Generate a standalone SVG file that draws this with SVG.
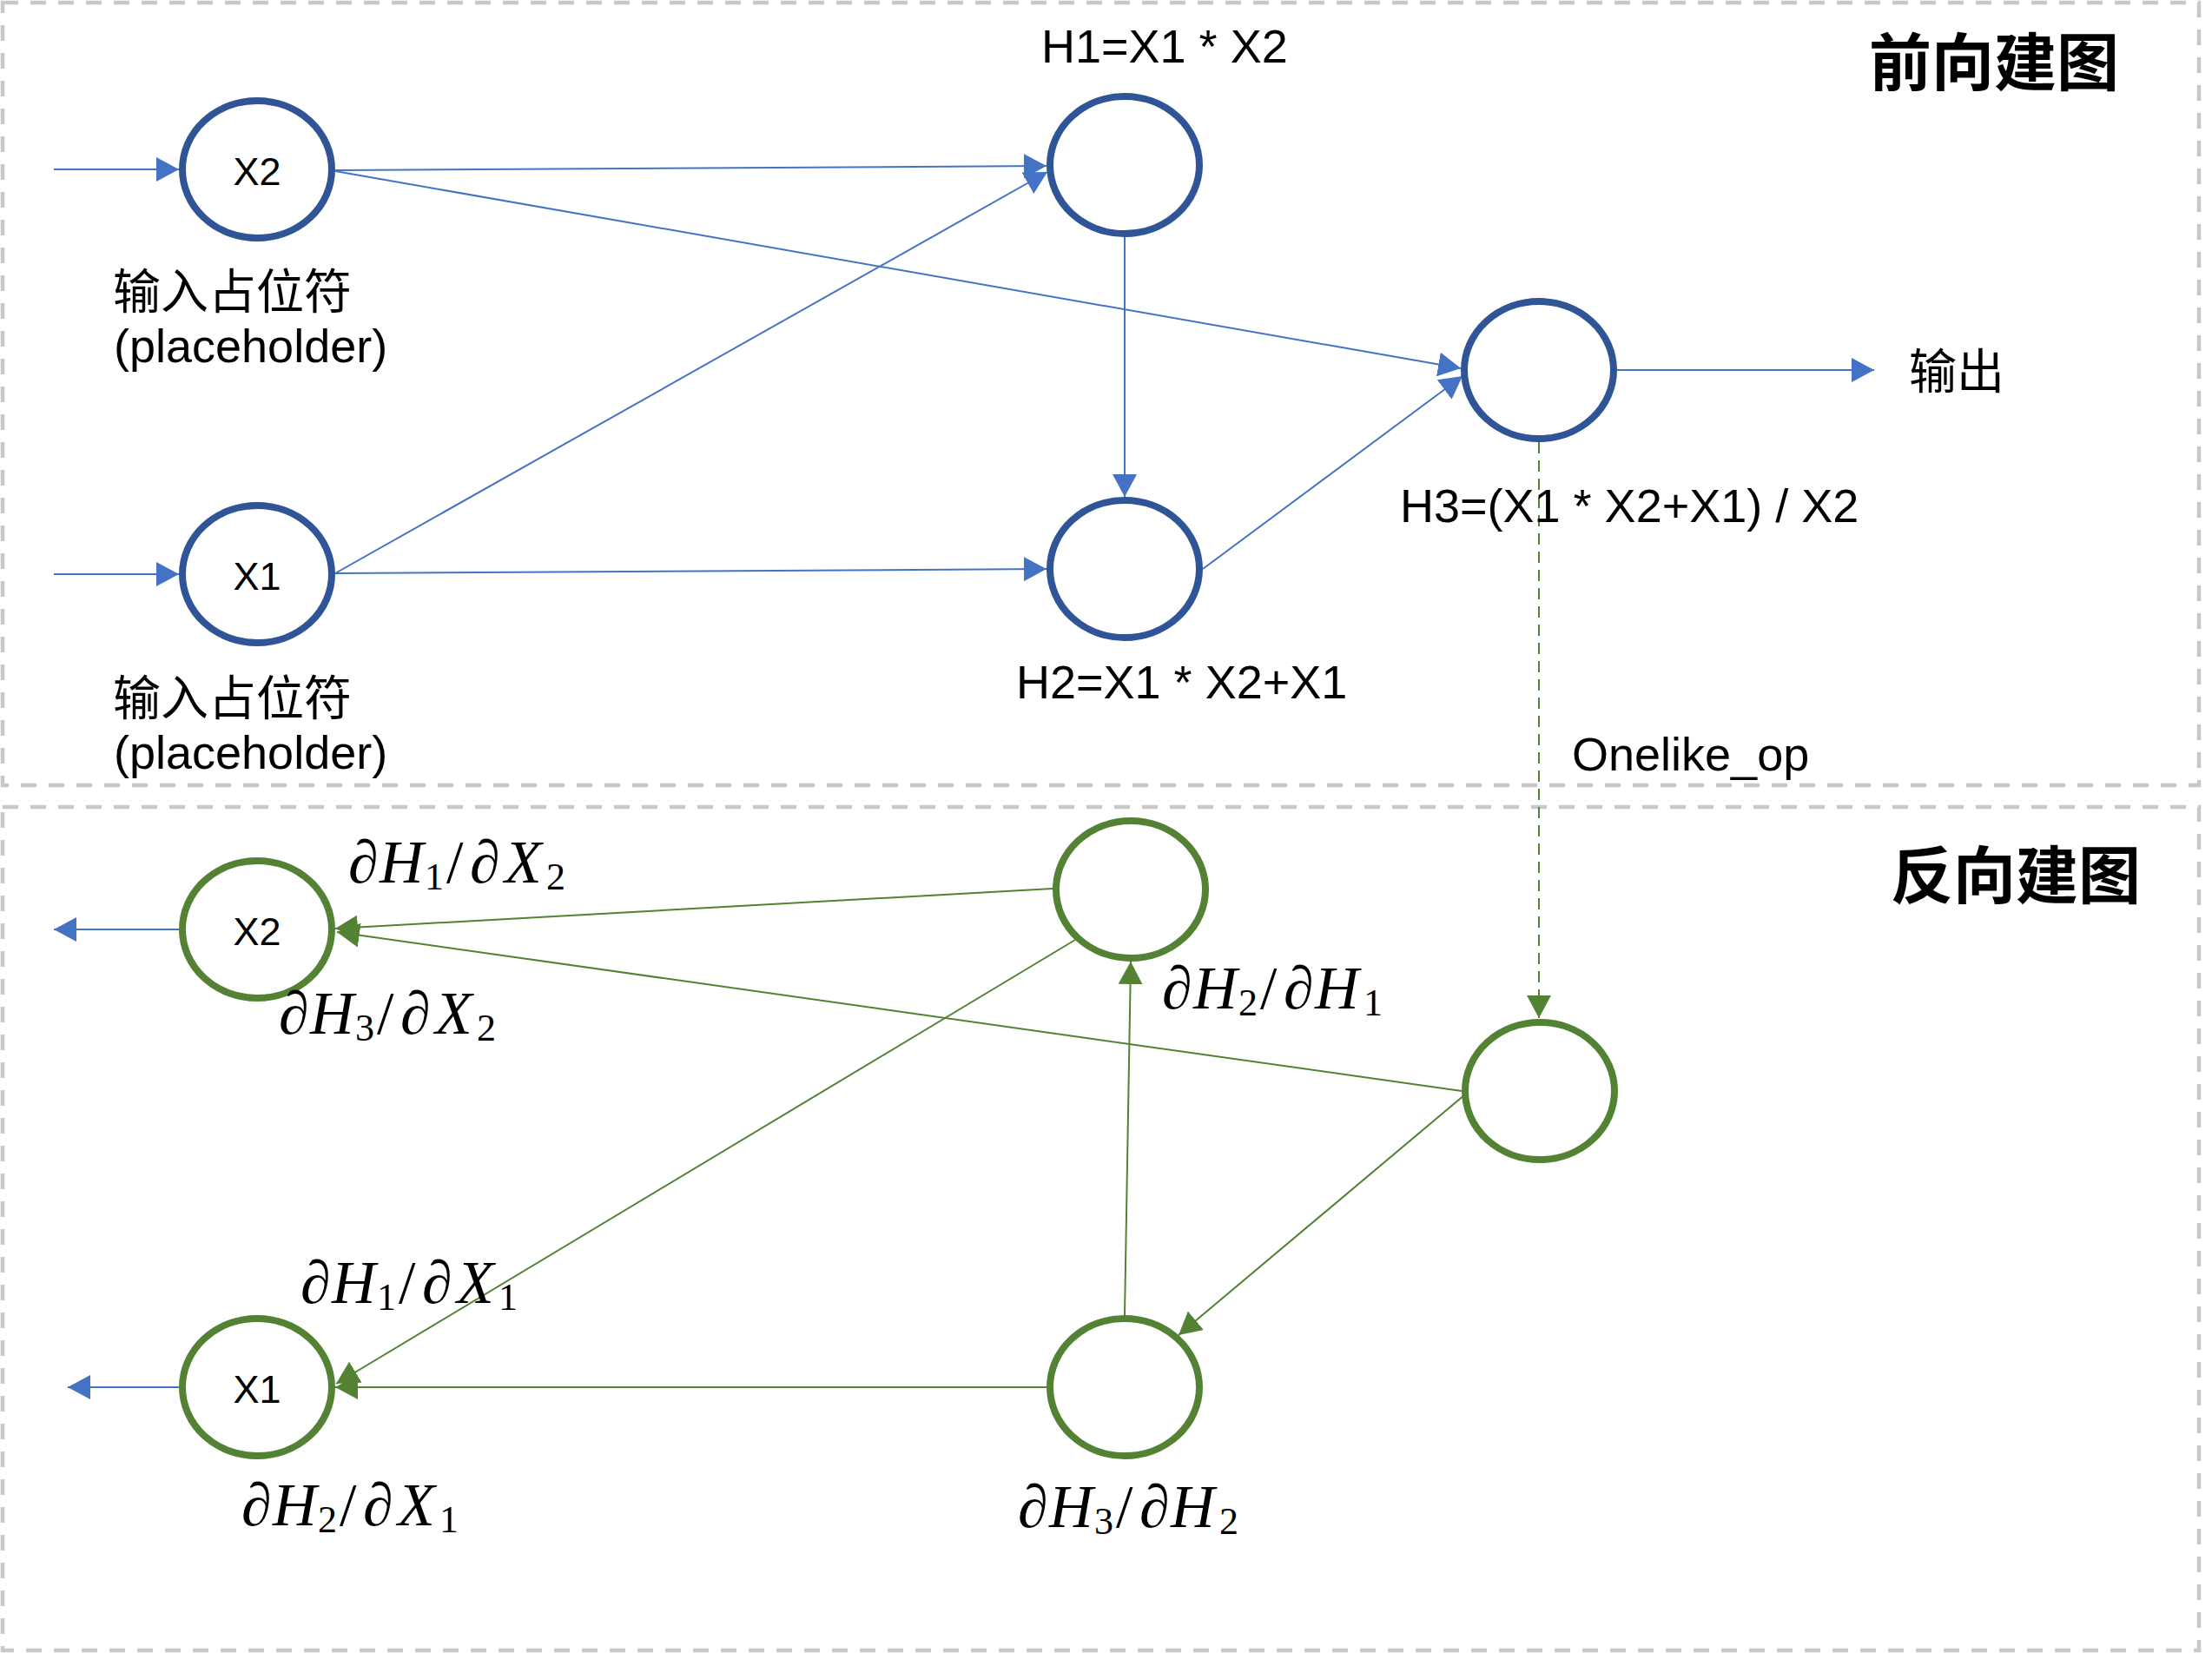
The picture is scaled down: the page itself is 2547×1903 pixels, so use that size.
<svg xmlns="http://www.w3.org/2000/svg" width="2547" height="1903" viewBox="0 0 2547 1903">
<style>
.frame{fill:none;stroke:#C8C8C8;stroke-width:4.5;stroke-dasharray:18 14}
.nb{fill:#fff;stroke:#2F5597;stroke-width:8}
.ng{fill:#fff;stroke:#548235;stroke-width:8}
.eb{fill:none;stroke:#4472C4;stroke-width:2;marker-end:url(#ab)}
.eg{fill:none;stroke:#548235;stroke-width:2;marker-end:url(#ag)}
.ed{fill:none;stroke:#548235;stroke-width:2;stroke-dasharray:13 8;marker-end:url(#ag)}
.in{font-family:"Liberation Sans",Arial,sans-serif;font-size:45px;fill:#000;text-anchor:middle}
.t{font-family:"Liberation Sans",Arial,sans-serif;font-size:54px;fill:#000}
.cj{font-family:"Noto Sans CJK SC",sans-serif;font-size:55px;fill:#000}
.ttl{font-family:"Noto Sans CJK SC",sans-serif;font-size:72px;font-weight:bold;fill:#000}
.m{font-family:"Liberation Serif","Times New Roman",serif;font-size:70px;font-style:italic;fill:#000}
.s{font-family:"Liberation Serif","Times New Roman",serif;font-size:44px;fill:#000}
.sl{font-family:"Liberation Serif","Times New Roman",serif;font-size:70px;fill:#000}
</style>
<defs>
<marker id="ab" markerUnits="userSpaceOnUse" markerWidth="26" markerHeight="28" viewBox="0 0 26 28" refX="26" refY="14" orient="auto"><path d="M0,0 L26,14 L0,28 z" fill="#4472C4"/></marker>
<marker id="ag" markerUnits="userSpaceOnUse" markerWidth="26" markerHeight="28" viewBox="0 0 26 28" refX="26" refY="14" orient="auto"><path d="M0,0 L26,14 L0,28 z" fill="#548235"/></marker>
</defs>
<rect width="2547" height="1903" fill="#fff"/>
<g id="frames">
<rect class="frame" x="3" y="3" width="2529" height="901"/>
<rect class="frame" x="3" y="929" width="2529" height="971"/>
</g>
<g id="connectors">
<line class="eb" x1="62" y1="195" x2="206" y2="195"/>
<line class="eb" x1="62" y1="661" x2="206" y2="661"/>
<line class="eb" x1="386" y1="196" x2="1205" y2="191"/>
<line class="eb" x1="386" y1="197" x2="1682" y2="424"/>
<line class="eb" x1="386" y1="660" x2="1206" y2="198"/>
<line class="eb" x1="386" y1="660" x2="1205" y2="655"/>
<line class="eb" x1="1295" y1="273" x2="1295" y2="572"/>
<line class="eb" x1="1385" y1="655" x2="1684" y2="433"/>
<line class="eb" x1="1862" y1="426" x2="2158" y2="426"/>
<line class="ed" x1="1772" y1="509" x2="1772" y2="1172"/>
<line class="eg" x1="1212" y1="1023" x2="386" y2="1069"/>
<line class="eg" x1="1683" y1="1256" x2="388" y2="1073"/>
<line class="eg" x1="1238" y1="1082" x2="387" y2="1593"/>
<line class="eg" x1="1205" y1="1597" x2="386" y2="1597"/>
<line class="eg" x1="1295" y1="1514" x2="1302" y2="1107"/>
<line class="eg" x1="1687" y1="1260" x2="1357" y2="1537"/>
<line class="eb" x1="206" y1="1070" x2="62" y2="1070"/>
<line class="eb" x1="206" y1="1597" x2="78" y2="1597"/>
</g>
<g id="node-X2"><ellipse class="nb" cx="296" cy="195" rx="86" ry="79"/><text class="in" x="296" y="213">X2</text></g>
<g id="node-X1"><ellipse class="nb" cx="296" cy="661" rx="86" ry="79"/><text class="in" x="296" y="679">X1</text></g>
<g id="node-H1"><ellipse class="nb" cx="1295" cy="190" rx="86" ry="79"/></g>
<g id="node-H2"><ellipse class="nb" cx="1295" cy="655" rx="86" ry="79"/></g>
<g id="node-H3"><ellipse class="nb" cx="1772" cy="426" rx="86" ry="79"/></g>
<g id="node-bX2"><ellipse class="ng" cx="296" cy="1070" rx="86" ry="79"/><text class="in" x="296" y="1088">X2</text></g>
<g id="node-bX1"><ellipse class="ng" cx="296" cy="1597" rx="86" ry="79"/><text class="in" x="296" y="1615">X1</text></g>
<g id="node-bH1"><ellipse class="ng" cx="1302" cy="1024" rx="86" ry="79"/></g>
<g id="node-bH3"><ellipse class="ng" cx="1773" cy="1256" rx="86" ry="79"/></g>
<g id="node-bH2"><ellipse class="ng" cx="1295" cy="1597" rx="86" ry="79"/></g>
<g id="labels-forward">
<text class="ttl" x="2152" y="98">前向建图</text>
<text class="t" x="1199" y="72">H1=X1 * X2</text>
<text class="t" x="1170" y="804">H2=X1 * X2+X1</text>
<text class="t" x="1612" y="601">H3=(X1 * X2+X1) / X2</text>
<text class="cj" x="2198" y="447">输出</text>
<text class="t" x="1810" y="887">Onelike_op</text>
<text class="cj" x="130" y="355">输入占位符</text>
<text class="t" x="131" y="417">(placeholder)</text>
<text class="cj" x="130" y="823">输入占位符</text>
<text class="t" x="131" y="885">(placeholder)</text>
</g>
<g id="labels-backward">
<text class="ttl" x="2177" y="1034">反向建图</text>
<g id="l-h1x2"><text class="m" x="401" y="1016">∂</text><text class="m" x="437" y="1016">H</text><text class="s" x="489" y="1024">1</text><text class="sl" x="514" y="1016">/</text><text class="m" x="541" y="1016">∂</text><text class="m" x="581" y="1016">X</text><text class="s" x="629" y="1024">2</text></g>
<g id="l-h3x2"><text class="m" x="321" y="1190">∂</text><text class="m" x="357" y="1190">H</text><text class="s" x="409" y="1198">3</text><text class="sl" x="434" y="1190">/</text><text class="m" x="461" y="1190">∂</text><text class="m" x="501" y="1190">X</text><text class="s" x="549" y="1198">2</text></g>
<g id="l-h2h1"><text class="m" x="1338" y="1161">∂</text><text class="m" x="1374" y="1161">H</text><text class="s" x="1426" y="1169">2</text><text class="sl" x="1451" y="1161">/</text><text class="m" x="1478" y="1161">∂</text><text class="m" x="1514" y="1161">H</text><text class="s" x="1570" y="1169">1</text></g>
<g id="l-h1x1"><text class="m" x="346" y="1500">∂</text><text class="m" x="382" y="1500">H</text><text class="s" x="434" y="1508">1</text><text class="sl" x="459" y="1500">/</text><text class="m" x="486" y="1500">∂</text><text class="m" x="526" y="1500">X</text><text class="s" x="574" y="1508">1</text></g>
<g id="l-h2x1"><text class="m" x="278" y="1756">∂</text><text class="m" x="314" y="1756">H</text><text class="s" x="366" y="1764">2</text><text class="sl" x="391" y="1756">/</text><text class="m" x="418" y="1756">∂</text><text class="m" x="458" y="1756">X</text><text class="s" x="506" y="1764">1</text></g>
<g id="l-h3h2"><text class="m" x="1172" y="1758">∂</text><text class="m" x="1208" y="1758">H</text><text class="s" x="1260" y="1766">3</text><text class="sl" x="1285" y="1758">/</text><text class="m" x="1312" y="1758">∂</text><text class="m" x="1348" y="1758">H</text><text class="s" x="1404" y="1766">2</text></g>
</g>
</svg>
